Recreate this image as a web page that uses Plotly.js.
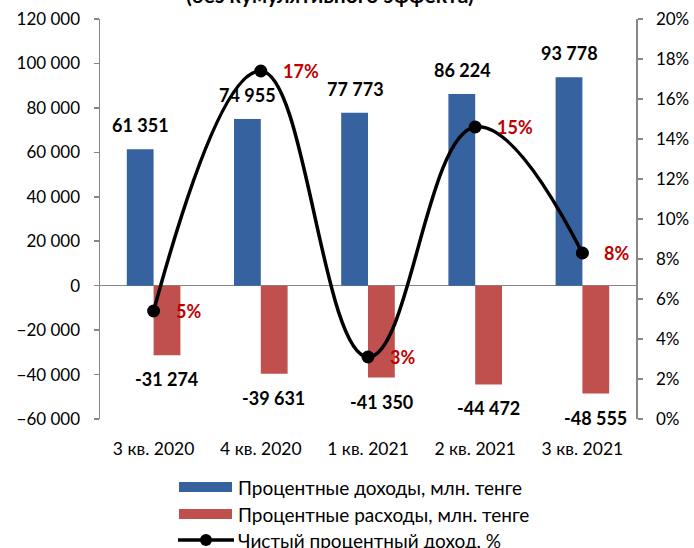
<!DOCTYPE html>
<html>
<head>
<meta charset="utf-8">
<script src="https://cdn.plot.ly/plotly-3.0.1.min.js"></script>
<style>html,body{margin:0;padding:0;background:#fff;}#chart{width:694px;height:548px;}</style>
</head>
<body>
<div id="chart"></div>
<script>
var categories = ["3 кв. 2020", "4 кв. 2020", "1 кв. 2021", "2 кв. 2021", "3 кв. 2021"];
var incomeValues = [61351, 74955, 77773, 86224, 93778];
var expenseValues = [-31274, -39631, -41350, -44472, -48555];
var netIncomePct = [5.4, 17.4, 3.1, 14.6, 8.3];
var seriesNames = ["Процентные доходы, млн. тенге", "Процентные расходы, млн. тенге", "Чистый процентный доход, %"];
var titleText = "(без кумулятивного эффекта)";

var FONT = "Lato, 'Open Sans', sans-serif";
var BLUE = "#36629F", RED = "#C0504D", AXIS = "#868686";

function fmt(v) {
  var s = Math.abs(v).toString().replace(/\B(?=(\d{3})+(?!\d))/g, " ");
  return (v < 0 ? "-" : "") + s;
}

var traces = [
  {type: "bar", x: categories, y: incomeValues, name: seriesNames[0], marker: {color: BLUE}, yaxis: "y", showlegend: false, hoverinfo: "y"},
  {type: "bar", x: categories, y: expenseValues, name: seriesNames[1], marker: {color: RED}, yaxis: "y", showlegend: false, hoverinfo: "y"},
  {type: "scatter", mode: "lines+markers", x: categories, y: netIncomePct.map(function(v){return v/100;}), name: seriesNames[2], yaxis: "y2",
   line: {color: "#000", width: 3.5, shape: "spline", smoothing: 1.2}, marker: {color: "#000", size: 13}, showlegend: false}
];

var annotations = [];
incomeValues.forEach(function(v, i) {
  annotations.push({xref: "x", yref: "y", x: categories[i], y: v, text: fmt(v), showarrow: false,
    xshift: -13, yshift: 24, yanchor: "middle", font: {family: FONT, size: 18, color: "#000", weight: "bold"}});
});
expenseValues.forEach(function(v, i) {
  annotations.push({xref: "x", yref: "y", x: categories[i], y: v, text: fmt(v), showarrow: false,
    xshift: 13, yshift: -24, yanchor: "middle", font: {family: FONT, size: 18, color: "#000", weight: "bold"}});
});
netIncomePct.forEach(function(v, i) {
  annotations.push({xref: "x", yref: "y2", x: categories[i], y: v/100, text: Math.round(v) + "%", showarrow: false,
    xanchor: "left", xshift: 20, yanchor: "middle", font: {family: FONT, size: 18, color: "#C00000", weight: "bold"}});
});
// title (clipped at top, as in the source image)
annotations.push({xref: "paper", yref: "paper", x: (330-100)/536, y: (419-9)/400, xanchor: "center", yanchor: "bottom",
  text: titleText, showarrow: false, font: {family: FONT, size: 21, color: "#000", weight: "bold"}});

// custom legend
var shapes = [];
function px(p){return (p-100)/536;}
function py(p){return (419-p)/400;}
shapes.push({type: "rect", xref: "paper", yref: "paper", x0: px(179), x1: px(232), y0: py(492), y1: py(482), fillcolor: BLUE, line: {width: 0}});
shapes.push({type: "rect", xref: "paper", yref: "paper", x0: px(179), x1: px(232), y0: py(519), y1: py(509), fillcolor: RED, line: {width: 0}});
shapes.push({type: "line", xref: "paper", yref: "paper", x0: px(178), x1: px(234), y0: py(540), y1: py(540), line: {color: "#000", width: 3.5}});
shapes.push({type: "circle", xref: "paper", yref: "paper", x0: px(200), x1: px(212), y0: py(546), y1: py(534), fillcolor: "#000", line: {width: 0}});
[487, 514, 540].forEach(function(yy, i) {
  annotations.push({xref: "paper", yref: "paper", x: px(236), y: py(yy), xanchor: "left", yanchor: "middle", text: seriesNames[i],
    showarrow: false, font: {family: FONT, size: 19, color: "#000"}});
});

var layout = {
  width: 694, height: 548,
  margin: {l: 100, r: 58, t: 19, b: 129, pad: 0},
  paper_bgcolor: "#fff", plot_bgcolor: "#fff",
  separators: ", ",
  barmode: "group", bargap: 0.5, bargroupgap: 0,
  font: {family: FONT, size: 17, color: "#000"},
  showlegend: false,
  xaxis: {type: "category", showline: false, ticks: "", showgrid: false, zeroline: false,
    tickfont: {family: FONT, size: 17.5, color: "#000"}, ticklabelstandoff: 17},
  yaxis: {range: [-60000, 120000], dtick: 20000, tick0: 0, tickformat: ",d", showgrid: false,
    showline: true, linecolor: AXIS, linewidth: 1.5, ticks: "outside", ticklen: 5, tickcolor: AXIS, tickwidth: 1.5,
    zeroline: true, zerolinecolor: AXIS, zerolinewidth: 1.5, ticklabelstandoff: 10,
    tickfont: {family: FONT, size: 17, color: "#000"}},
  yaxis2: {overlaying: "y", side: "right", range: [0, 0.2], dtick: 0.02, tickformat: ".0%", showgrid: false,
    showline: true, linecolor: AXIS, linewidth: 1.5, ticks: "outside", ticklen: 5, tickcolor: AXIS, tickwidth: 1.5,
    zeroline: false, ticklabelstandoff: 10, tickfont: {family: FONT, size: 17, color: "#000"}},
  annotations: annotations,
  shapes: shapes
};

Plotly.newPlot("chart", traces, layout, {displayModeBar: false, staticPlot: true});
</script>
</body>
</html>
